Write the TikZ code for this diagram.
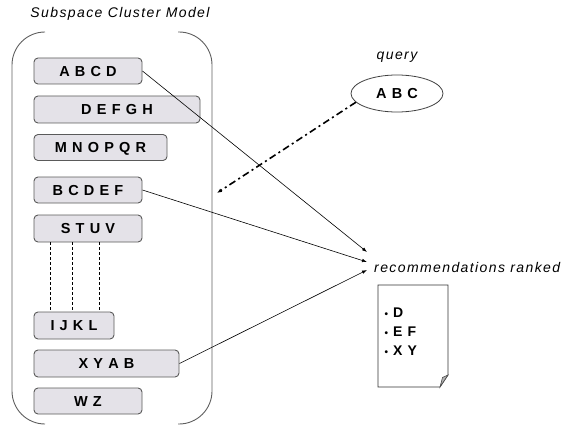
\documentclass[tikz,border=0pt]{standalone}
\usepackage{fontspec}
\setmainfont{Liberation Sans}
\newfontfamily\lblfont[LetterSpace=10]{Liberation Sans}
\newfontfamily\boxfont[LetterSpace=8]{Liberation Sans}
\usetikzlibrary{shapes.geometric,arrows.meta}
\definecolor{boxfill}{RGB}{228,226,232}
\definecolor{boxline}{RGB}{90,90,90}
\definecolor{contline}{RGB}{95,95,95}
\tikzset{
  itembox/.style={draw=boxline,fill=boxfill,rounded corners=4pt,line width=0.9pt,
    inner sep=0pt,text depth=0pt,text height=10.4pt,font=\boxfont\bfseries\fontsize{14.5}{14.5}\selectfont},
  lbl/.style={inner sep=0pt,font=\lblfont\itshape\fontsize{14}{14}\selectfont},
  bul/.style={inner sep=0pt,anchor=base west,font=\boxfont\bfseries\fontsize{14}{14}\selectfont},
  conn/.style={-{Latex[length=5pt,width=3.5pt]},line width=0.6pt,black},
  qconn/.style={-{Latex[length=5pt,width=4pt]},line width=1.6pt,black,
    dash pattern=on 7pt off 3.5pt on 2pt off 3.5pt},
  vdash/.style={dashed,line width=0.6pt,dash pattern=on 3pt off 2pt,black},
}
\begin{document}
\begin{tikzpicture}[x=1pt,y=-1pt]
\useasboundingbox (0,0) rectangle (583,425);
% title
\node[lbl,anchor=base] (title) at (120,18) {Subspace Cluster Model};
% container brackets
\draw[contline,line width=0.9pt,rounded corners=33pt] (45,32) -- (12,32) -- (12,424) -- (45,424);
\draw[contline,line width=0.9pt,rounded corners=33pt] (178,32) -- (212,32) -- (212,424) -- (178,424);
% item boxes
\node[itembox,minimum width=108pt,minimum height=26pt] (abcd) at (88,71) {A B C D};
\node[itembox,minimum width=166pt,minimum height=27pt] (defgh) at (117,109.5) {D E F G H};
\node[itembox,minimum width=133pt,minimum height=26pt] (mno) at (100.5,147.5) {M N O P Q R};
\node[itembox,minimum width=108pt,minimum height=26pt] (bcdef) at (88,190) {B C D E F};
\node[itembox,minimum width=108pt,minimum height=27pt] (stuv) at (88,228.5) {S T U V};
\node[itembox,minimum width=80pt,minimum height=27pt] (ijkl) at (74,325.5) {I J K L};
\node[itembox,minimum width=145pt,minimum height=27pt] (xyab) at (106.5,363.5) {X Y A B};
\node[itembox,minimum width=108pt,minimum height=26pt] (wz) at (88,401) {W Z};
% dashed links
\draw[vdash] (stuv.south -| 50,0) -- (ijkl.north -| 50,0);
\draw[vdash] (stuv.south -| 72,0) -- (ijkl.north -| 72,0);
\draw[vdash] (stuv.south -| 99,0) -- (ijkl.north -| 99,0);
% query
\node[lbl,anchor=base] (qlabel) at (397,60) {query};
\node[draw=black!75,line width=0.8pt,ellipse,minimum width=92pt,minimum height=37pt,inner sep=0pt,
  text depth=0pt,text height=10.4pt,font=\boxfont\bfseries\fontsize{14.5}{14.5}\selectfont] (q) at (397,93.5) {A B C};
\coordinate (qend) at (217,193);
\draw[qconn] (q.192) -- (qend);
% recommendations
\node[lbl,anchor=base west] (rec) at (374,272) {recommendations ranked};
\coordinate (r1) at (367,252);
\coordinate (r2) at (367,262);
\coordinate (r3) at (367,270);
\draw[conn] (abcd.east) -- (r1);
\draw[conn] (bcdef.east) -- (r2);
\draw[conn] (xyab.east) -- (r3);
% document
\draw[black!80,line width=0.8pt,fill=white] (378,285) -- (448,285) -- (448,375) -- (440,387) -- (378,387) -- cycle;
\draw[black!70,line width=0.6pt,fill=black!30] (448,375) -- (442.5,377.5) -- (440,387) -- cycle;
\node[bul] (b1) at (384.5,317) {{\fontsize{10}{10}\selectfont\textbullet} D};
\node[bul] (b2) at (384.5,336) {{\fontsize{10}{10}\selectfont\textbullet} E F};
\node[bul] (b3) at (384.5,355) {{\fontsize{10}{10}\selectfont\textbullet} X Y};
\end{tikzpicture}
\end{document}
